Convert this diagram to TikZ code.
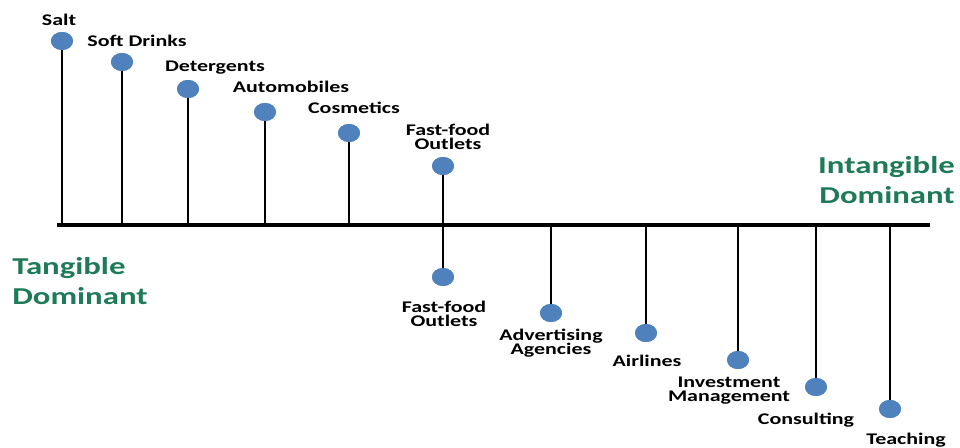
\documentclass[tikz,border=0pt]{standalone}
\usepackage{fontspec}
\usetikzlibrary{shapes.geometric}
\newfontfamily\labfont[FakeStretch=1.35]{Carlito}
\definecolor{dotblue}{RGB}{79,129,189}
\definecolor{domgreen}{RGB}{30,122,88}
\begin{document}
\begin{tikzpicture}[x=0.75pt,y=-0.75pt,
  dotnode/.style={ellipse, fill=dotblue, draw=none, minimum width=16.5pt, minimum height=13.5pt, inner sep=0pt},
  lab/.style={font=\labfont\bfseries\fontsize{12.2}{11.2}\selectfont, anchor=base, inner sep=0pt, align=center, text=black},
  dom/.style={font=\labfont\bfseries\fontsize{18.2}{23}\selectfont, inner sep=0pt, text=domgreen},
  stemline/.style={line width=1.1pt, black},
  axisline/.style={line width=3.6pt, black}]
\useasboundingbox (0,0) rectangle (960,448);
% axis
\coordinate (axL) at (57,225);
\coordinate (axR) at (930,225);
% stems and dots
\foreach \n/\x/\y in {1/62/41, 2/122/62, 3/188/89, 4/265/112, 5/349/133, 6/443/166,
                      7/443/277, 8/551/313, 9/646/333, 10/738/360, 11/816/387, 12/890/409} {
  \coordinate (a\n) at (\x,225);
  \node[dotnode] (d\n) at (\x,\y) {};
}
\foreach \n in {1,...,12} { \draw[stemline] (a\n) -- (d\n.center); }
\foreach \n in {1,...,12} { \node[dotnode] at (d\n.center) {}; }
\draw[axisline] (axL) -- (axR);
% upper labels (base = baseline of last line)
\node[lab] (l1) at (59,26) {Salt};
\node[lab] (l2) at (137,47) {Soft Drinks};
\node[lab] (l3) at (215,72) {Detergents};
\node[lab] (l4) at (291,93) {Automobiles};
\node[lab] (l5) at (354,114) {Cosmetics};
\node[lab] (l6) at (448,150) {Fast-food\\Outlets};
% lower labels
\node[lab] (l7) at (444,327) {Fast-food\\Outlets};
\node[lab] (l8) at (551,355) {Advertising\\Agencies};
\node[lab] (l9) at (647,367) {Airlines};
\node[lab] (l10) at (729,402) {Investment\\Management};
\node[lab] (l11) at (806,425) {Consulting};
\node[lab] (l12) at (906,445) {Teaching};
% dominant labels
\node[dom, anchor=base west, align=left] (tang) at (12,305) {Tangible\\Dominant};
\node[dom, anchor=base east, align=right] (intang) at (955,204) {Intangible\\Dominant};
\end{tikzpicture}
\end{document}
